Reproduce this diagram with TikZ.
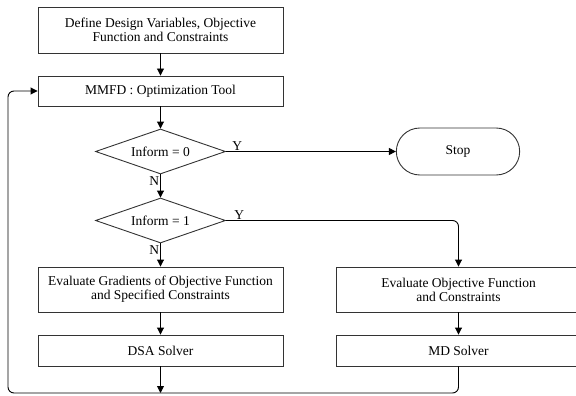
\documentclass[tikz,border=0pt]{standalone}
\usepackage{fontspec}
\setmainfont{Liberation Serif}
\usetikzlibrary{arrows.meta,positioning,shapes.geometric,shapes.misc}

\begin{document}
\begin{tikzpicture}[x=1pt,y=-1pt,
    >={Triangle[length=7pt,width=7pt]},
    every path/.style={line width=0.9pt},
    procbox/.style={draw=black!80,rectangle,minimum width=245pt,align=center,font=\fontsize{13.5}{14}\selectfont,inner sep=2pt},
    decision/.style={draw=black!80,diamond,aspect=2.9,minimum width=130pt,minimum height=45pt,inner sep=0pt,font=\fontsize{13.5}{14}\selectfont},
    terminal/.style={draw=black!80,rounded rectangle,minimum width=130pt,minimum height=47pt,font=\fontsize{13.5}{14}\selectfont},
    branch/.style={font=\fontsize{13.5}{14}\selectfont,inner sep=1pt}]

\useasboundingbox (0,0) rectangle (576,396);

\def\leftx{160.5}
\def\rightx{458.5}
\def\loopy{393}

\node (define) [procbox,minimum height=46pt] at (\leftx,30) {Define Design Variables, Objective\\Function and Constraints};
\node (mmfd) [procbox,minimum height=30pt] at (\leftx,91) {MMFD : Optimization Tool};
\node (inform0) [decision] at (\leftx,151.5) {Inform = 0};
\node (stop) [terminal] at (458,151.5) {Stop};
\node (inform1) [decision] at (\leftx,220.5) {Inform = 1};
\node (gradients) [procbox,minimum height=45pt] at (\leftx,289.5) {Evaluate Gradients of Objective Function\\and Specified Constraints};
\node (dsa) [procbox,minimum height=31pt] at (\leftx,350.5) {DSA Solver};
\node (objective) [procbox,minimum height=45pt] at (\rightx,289.5) {Evaluate Objective Function\\and Constraints};
\node (md) [procbox,minimum height=31pt] at (\rightx,350.5) {MD Solver};

\coordinate (loopmid) at (\leftx,\loopy);
\coordinate (loopright) at (\rightx,\loopy);
\coordinate (loopleft) at (8,\loopy);

\draw [->] (define) -- (mmfd);
\draw [->] (mmfd) -- (inform0);
\draw [->] (inform0) -- node [branch,pos=0.3,left] {N} (inform1);
\draw [->] (inform0.east) -- node [branch,pos=0.03,above right] {Y} (stop.west);
\draw [->] (inform1) -- node [branch,pos=0.3,left] {N} (gradients);
\draw [->,rounded corners=6pt] (inform1.east) -| node [branch,pos=0.015,above right] {Y} (objective.north);
\draw [->] (gradients) -- (dsa);
\draw [->] (objective) -- (md);
\draw [->] (dsa) -- (loopmid);
\draw [->,rounded corners=6pt] (md.south) -- (loopright) -- (loopleft) |- (mmfd.west);

\end{tikzpicture}
\end{document}
